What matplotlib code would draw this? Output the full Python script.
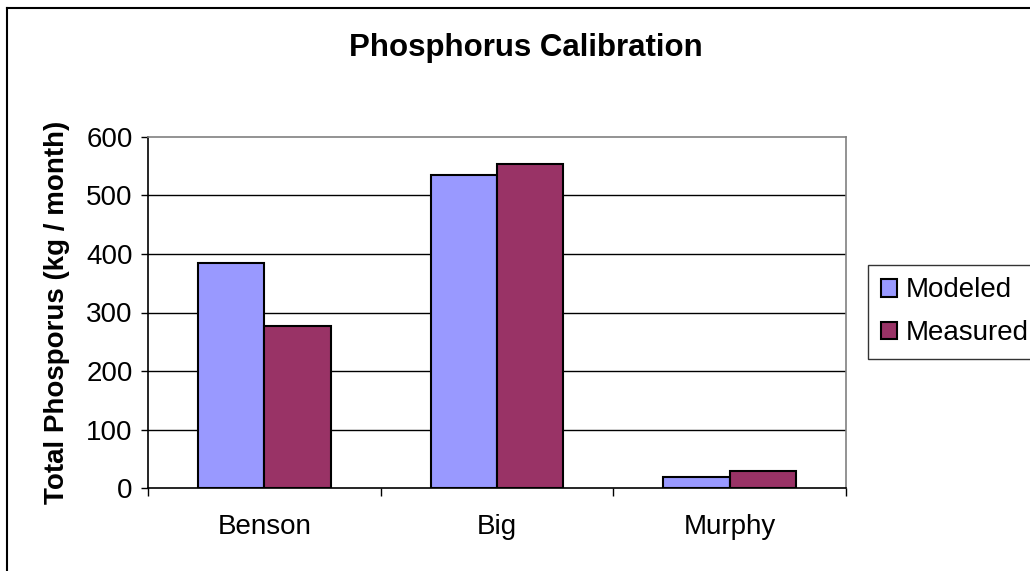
import matplotlib.pyplot as plt
import numpy as np
from matplotlib.lines import Line2D

plt.rcParams['font.family'] = ['Liberation Sans', 'DejaVu Sans']

sites = ['Benson', 'Big', 'Murphy']
modeled = [385, 535, 18]
measured = [277, 553, 29]
yticks = [0, 100, 200, 300, 400, 500, 600]

fig = plt.figure(figsize=(10.30, 5.71), dpi=100)
ax = fig.add_axes([148 / 1030, 1 - 488 / 571, (846 - 148) / 1030, (488 - 137) / 571])

x = np.arange(len(sites))
w = 1 / 3.5
ax.bar(x - w / 2, modeled, w, color='#9999FF', edgecolor='black', linewidth=1.5,
       label='Modeled', zorder=3)
ax.bar(x + w / 2, measured, w, color='#993366', edgecolor='black', linewidth=1.5,
       label='Measured', zorder=3)

ax.set_xlim(-0.5, len(sites) - 0.5)
ax.set_ylim(0, 600)
ax.set_yticks(yticks)
ax.tick_params(axis='y', labelsize=20, length=5, width=1, pad=6, direction='out')
for yv in yticks[1:-1]:
    ax.axhline(yv, color='black', linewidth=1, zorder=1)

# boundaries between categories carry the tick marks, names sit in between
ax.set_xticks(np.arange(-0.5, len(sites)), labels=[''] * (len(sites) + 1))
ax.tick_params(axis='x', which='major', length=6, width=1, direction='out')
ax.set_xticks(x, labels=sites, minor=True)
ax.tick_params(axis='x', which='minor', length=0, labelsize=20, pad=19)

ax.spines['left'].set_color('black')
ax.spines['bottom'].set_color('black')
ax.spines['top'].set_color('#808080')
ax.spines['right'].set_color('#808080')
for s in ax.spines.values():
    s.set_linewidth(1.2)

ax.set_ylabel('Total Phosporus (kg / month)', fontsize=20, fontweight='bold', labelpad=12)
fig.text(526 / 1030, 1 - 48 / 571, 'Phosphorus Calibration', fontsize=22.5,
         fontweight='bold', ha='center', va='center')

leg = fig.legend(loc='upper left', bbox_to_anchor=(868 / 1030, 1 - 265 / 571),
                 fontsize=20, frameon=True, fancybox=False, edgecolor='black',
                 handlelength=0.6, handleheight=0.6, handletextpad=0.3,
                 borderpad=0.45, labelspacing=0.6, borderaxespad=0)
leg.get_frame().set_linewidth(1)

# outer chart border
fig.add_artist(Line2D([7 / 1030, 7 / 1030], [0, 1 - 8 / 571], color='black',
                      linewidth=1.5, transform=fig.transFigure))
fig.add_artist(Line2D([7 / 1030, 1], [1 - 8 / 571, 1 - 8 / 571], color='black',
                      linewidth=1.5, transform=fig.transFigure))

fig.savefig('out.png', dpi=100)
